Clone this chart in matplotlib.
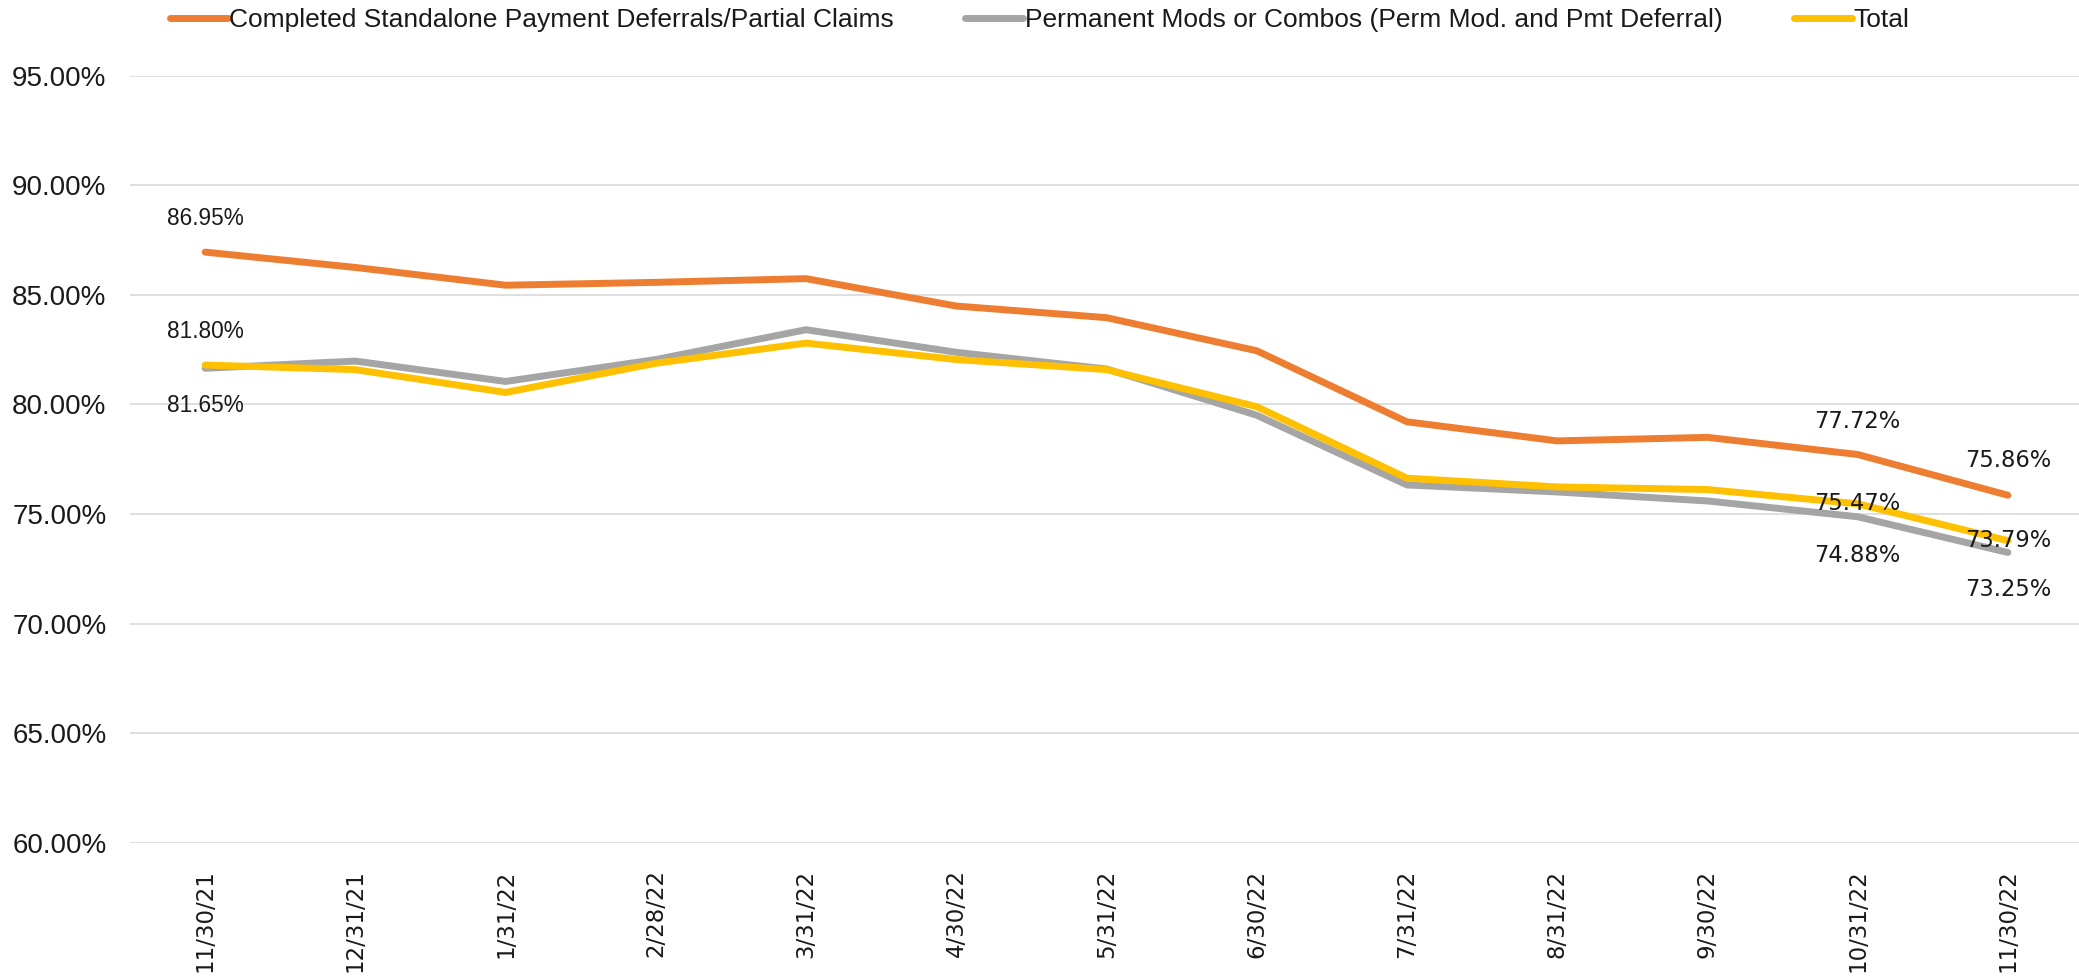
import matplotlib
matplotlib.use("Agg")
import matplotlib.pyplot as plt
from matplotlib.ticker import FuncFormatter

# month-end dates
dates = ["11/30/21", "12/31/21", "1/31/22", "2/28/22", "3/31/22", "4/30/22", "5/31/22",
         "6/30/22", "7/31/22", "8/31/22", "9/30/22", "10/31/22", "11/30/22"]

# rates in percent
standalone = [86.95, 86.25, 85.44, 85.57, 85.74, 84.49, 83.96, 82.45, 79.21, 78.34, 78.50, 77.72, 75.86]
perm_mods = [81.65, 81.98, 81.05, 82.05, 83.41, 82.38, 81.62, 79.51, 76.33, 76.01, 75.60, 74.88, 73.25]
total = [81.80, 81.59, 80.55, 81.88, 82.80, 82.05, 81.59, 79.90, 76.64, 76.24, 76.12, 75.47, 73.79]

names = ["Completed Standalone Payment Deferrals/Partial Claims",
         "Permanent Mods or Combos (Perm Mod. and Pmt Deferral)",
         "Total"]
colors = ["#ED7D31", "#A5A5A5", "#FFC000"]

txt = "#1a1a1a"
plt.rcParams["font.family"] = ["Liberation Sans", "DejaVu Sans"]

fig = plt.figure(figsize=(20.79, 9.76), dpi=100)
ax = fig.add_axes([130 / 2079, 1 - 843 / 976, 1953 / 2079, (843 - 75.6) / 976])

x = list(range(len(dates)))
series = [standalone, perm_mods, total]
for vals, name, c in zip(series, names, colors):
    ax.plot(x, vals, color=c, lw=5, label=name, solid_joinstyle="round",
            solid_capstyle="round")

ax.set_xlim(-0.5, len(dates) - 0.5)
ax.set_ylim(60, 95)
ax.set_yticks([60, 65, 70, 75, 80, 85, 90, 95])
ax.yaxis.set_major_formatter(FuncFormatter(lambda v, p: f"{v:.2f}%"))
ax.set_xticks(x)
ax.set_xticklabels(dates, rotation=90, fontsize=16.5, family="DejaVu Sans", color=txt)
ax.tick_params(axis="y", labelsize=20, length=0, pad=17, labelcolor=txt)
ax.tick_params(axis="x", length=0, pad=19)
ax.grid(axis="y", color="#d9d9d9", lw=1.2)
ax.set_axisbelow(True)
for s in ax.spines.values():
    s.set_visible(False)

# data labels: (series index, point index, y offset in points, font)
labels = [
    (0, 0, 24, "Liberation Sans"),
    (2, 0, 24, "Liberation Sans"),
    (1, 0, -27, "Liberation Sans"),
    (0, 11, 24, "DejaVu Sans"),
    (2, 11, 0, "DejaVu Sans"),
    (1, 11, -28, "DejaVu Sans"),
    (0, 12, 25, "DejaVu Sans"),
    (2, 12, 0, "DejaVu Sans"),
    (1, 12, -27, "DejaVu Sans"),
]
for si, pi, dy, fam in labels:
    v = series[si][pi]
    ax.annotate(f"{v:.2f}%", (pi, v), xytext=(0, dy), textcoords="offset points",
                ha="center", va="center", fontsize=16.3, family=fam, color=txt)

fig.legend(loc="center", bbox_to_anchor=(0.5, 1 - 20 / 976), ncol=3, frameon=False,
           fontsize=19, handlelength=2.2, handletextpad=0.05, columnspacing=2.7,
           labelcolor=txt)

fig.savefig("out.png", dpi=100, facecolor="white")
